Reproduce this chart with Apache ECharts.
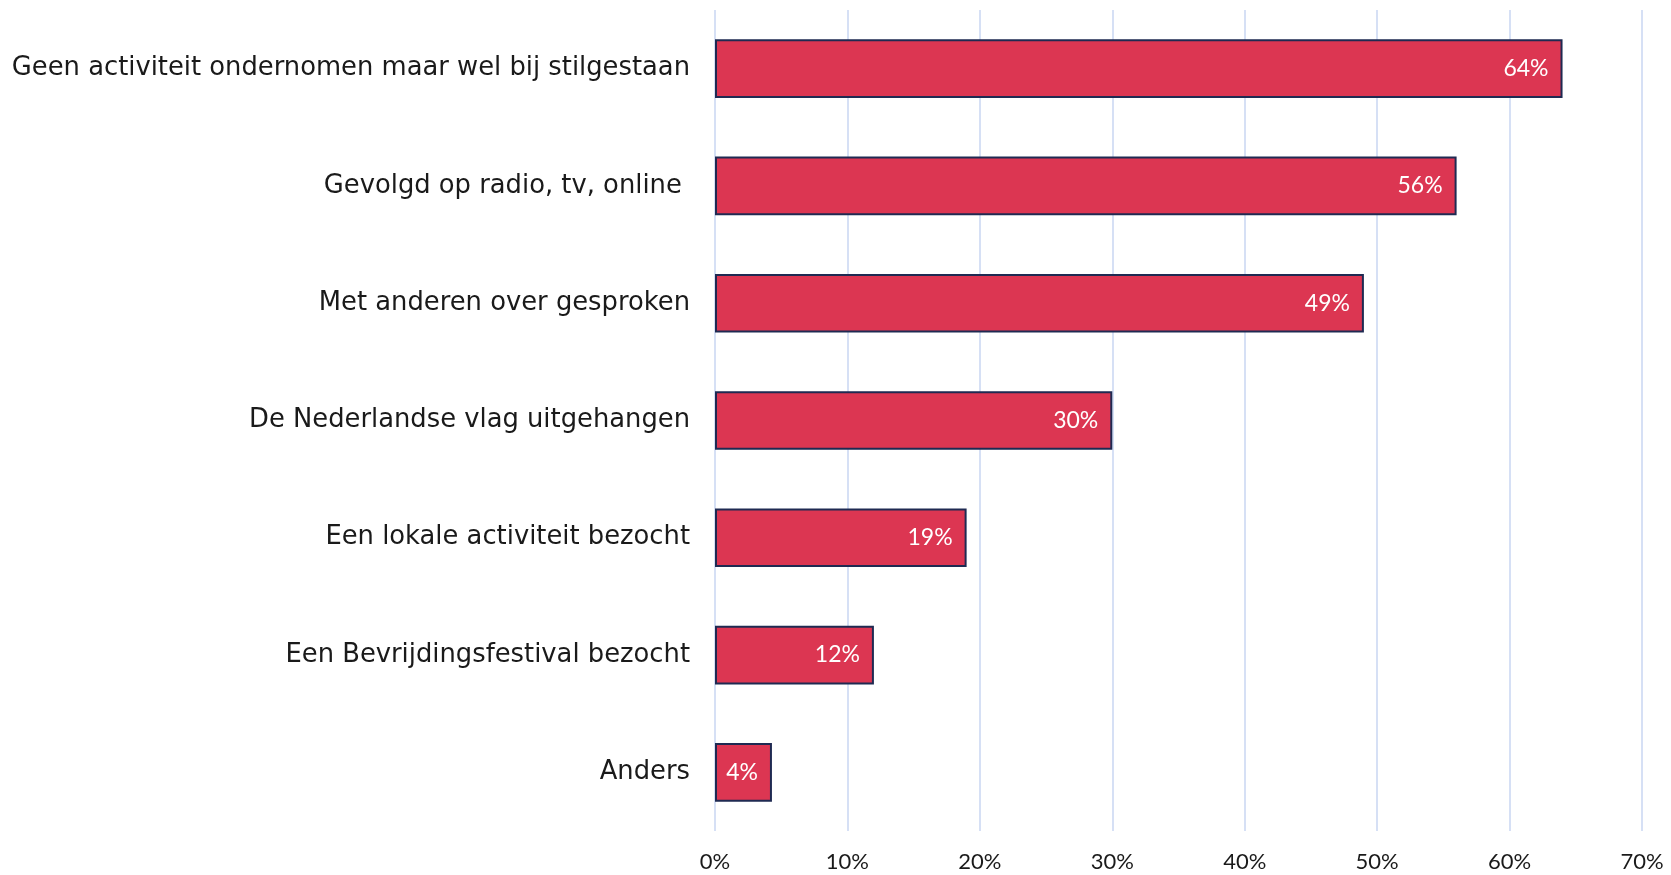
<!DOCTYPE html>
<html>
<head>
    <meta charset="utf-8">
    <title>Activiteiten</title>
    <script type="text/javascript" src="https://cdn.jsdelivr.net/npm/echarts@6/dist/echarts.min.js"></script>
    <style>
        html, body { margin: 0; padding: 0; background: #fff; }
    </style>
</head>
<body>
    <div id="main" style="width: 1671px;height:875px;"></div>
    <script type="text/javascript">
        // categorieen van boven naar beneden
        var categories = [
            'Geen activiteit ondernomen maar wel bij stilgestaan',
            'Gevolgd op radio, tv, online ',
            'Met anderen over gesproken',
            'De Nederlandse vlag uitgehangen',
            'Een lokale activiteit bezocht',
            'Een Bevrijdingsfestival bezocht',
            'Anders'
        ];
        var values = [64, 56, 49, 30, 19, 12, 4.3];
        var tickValues = [0, 10, 20, 30, 40, 50, 60, 70];

        var fontFam = 'Lato, "DejaVu Sans", sans-serif';
        var chart = echarts.init(document.getElementById('main'));
        var option = {
            animation: false,
            grid: { left: 715, right: 29, top: 10, bottom: 44 },
            xAxis: {
                type: 'value',
                min: tickValues[0],
                max: tickValues[tickValues.length - 1],
                interval: 10,
                axisLine: { show: false },
                axisTick: { show: false },
                axisLabel: {
                    formatter: '{value}%',
                    fontSize: 22,
                    color: '#1a1a1a',
                    fontFamily: fontFam,
                    margin: 20
                },
                splitLine: { lineStyle: { color: '#D6E0F5', width: 2 } }
            },
            yAxis: {
                type: 'category',
                data: categories,
                inverse: true,
                axisLine: { show: false },
                axisTick: { show: false },
                axisLabel: {
                    fontSize: 25.8,
                    color: '#1a1a1a',
                    fontFamily: '"DejaVu Sans", sans-serif',
                    margin: 25,
                    padding: [8, 0, 0, 0]
                }
            },
            series: [{
                type: 'bar',
                data: values,
                barCategoryGap: '50%',
                itemStyle: { color: '#DC3652', borderColor: '#1F2A52', borderWidth: 2 },
                label: {
                    show: true,
                    position: 'insideRight',
                    distance: 14,
                    color: '#fff',
                    fontSize: 23,
                    fontFamily: fontFam,
                    padding: [5, 0, 0, 0],
                    formatter: function (p) { return Math.round(p.value) + '%'; }
                }
            }]
        };
        chart.setOption(option);
    </script>
</body>
</html>
